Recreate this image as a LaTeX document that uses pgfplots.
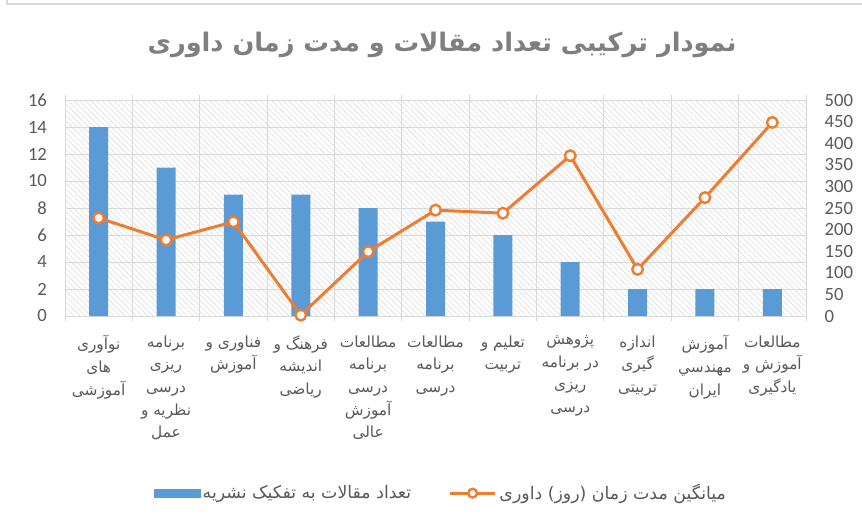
\documentclass[border=0pt]{standalone}
\usepackage{fontspec}
\usepackage{pgfplots}
\pgfplotsset{compat=1.18}
\usetikzlibrary{patterns.meta}
\TeXXeTstate=1
\newfontfamily\arabicfont[Script=Arabic]{DejaVu Sans}
\newfontfamily\numfont{Carlito}
\definecolor{barblue}{HTML}{5B9BD5}
\definecolor{lineorange}{HTML}{ED7D31}
\definecolor{gridgray}{HTML}{D9D9D9}
\definecolor{hatchgray}{HTML}{DDDDDD}
\definecolor{txtgray}{HTML}{595959}
\definecolor{titlegray}{HTML}{7F7F7F}
\begin{document}
\begin{tikzpicture}[x=0.75pt,y=0.75pt]
\path[use as bounding box] (0,0) rectangle (862,519);
\draw[gridgray, line width=1.5pt] (7,519) -- (7,515) -- (862,515);
\node[text=titlegray, font=\arabicfont\bfseries\fontsize{19.2}{22}\selectfont] at (442,474) {\beginR نمودار ترکیبی تعداد مقالات و مدت زمان داوری\endR};
\begin{axis}[
  at={(48.75pt,152.25pt)}, anchor=south west,
  scale only axis, width=555.75pt, height=162pt,
  xmin=-0.5, xmax=10.5, ymin=0, ymax=16,
  axis background/.style={pattern={Lines[angle=-45,distance=3pt,line width=0.45pt]}, pattern color=hatchgray},
  axis line style={gridgray, line width=0.75pt},
  xtick={-0.5,0.5,...,10.5}, xticklabels={},
  xmajorgrids, ymajorgrids,
  grid style={gridgray, line width=0.75pt},
  tick align=outside, x tick style={gridgray, line width=0.75pt}, major tick length=4pt,
  ytick={0,2,...,16}, y tick style={draw=none},
  yticklabel style={font=\numfont\fontsize{14}{14}\selectfont, text=txtgray, xshift=-6pt},
  /pgf/number format/assume math mode=true,
  extra x ticks={0,1,...,10},
  extra x tick style={grid=none, major tick length=0pt, tick label style={align=center, text=txtgray, font=\arabicfont\fontsize{11.5}{17}\selectfont, yshift=-11pt, anchor=north}},
  extra x tick labels={
    {\beginR نوآوری\endR\\\beginR های\endR\\\beginR آموزشی\endR},
    {\beginR برنامه\endR\\\beginR ریزی\endR\\\beginR درسی\endR\\\beginR نظریه و\endR\\\beginR عمل\endR},
    {\beginR فناوری و\endR\\\beginR آموزش\endR},
    {\beginR فرهنگ و\endR\\\beginR اندیشه\endR\\\beginR ریاضی\endR},
    {\beginR مطالعات\endR\\\beginR برنامه\endR\\\beginR درسی\endR\\\beginR آموزش\endR\\\beginR عالی\endR},
    {\beginR مطالعات\endR\\\beginR برنامه\endR\\\beginR درسی\endR},
    {\beginR تعلیم و\endR\\\beginR تربیت\endR},
    {\beginR پژوهش\endR\\\beginR در برنامه\endR\\\beginR ریزی\endR\\\beginR درسی\endR},
    {\beginR اندازه\endR\\\beginR گیری\endR\\\beginR تربیتی\endR},
    {\beginR آموزش\endR\\\beginR مهندسي\endR\\\beginR ایران\endR},
    {\beginR مطالعات\endR\\\beginR آموزش و\endR\\\beginR یادگیری\endR}
  },
]
\addplot[ybar, bar width=14.25pt, fill=barblue, draw=none] coordinates {
  (0,14) (1,11) (2,9) (3,9) (4,8) (5,7) (6,6) (7,4) (8,2) (9,2) (10,2)
};
\end{axis}
\begin{axis}[
  at={(48.75pt,152.25pt)}, anchor=south west,
  scale only axis, width=555.75pt, height=162pt,
  xmin=-0.5, xmax=10.5, ymin=0, ymax=500,
  axis x line=none, axis y line*=right,
  y axis line style={draw=none},
  ytick={0,50,...,500}, y tick style={draw=none},
  yticklabel style={font=\numfont\fontsize{14}{14}\selectfont, text=txtgray, xshift=10.5pt},
  /pgf/number format/assume math mode=true,
  clip=false,
  legend columns=2,
  legend style={draw=none, fill=none, at={(0.508,-0.82)}, anchor=center,
    font=\arabicfont\fontsize{13}{14}\selectfont, text=txtgray,
    /tikz/every even column/.append style={column sep=26pt}},
]
\addlegendimage{legend image code/.code={\fill[barblue] (0pt,-3pt) rectangle (34pt,3pt);}}
\addlegendentry{\beginR تعداد مقالات به تفکیک نشریه\endR}
\addlegendimage{legend image code/.code={\draw[lineorange, line width=2.25pt] (0pt,0pt) -- (34pt,0pt); \draw[lineorange, line width=1.8pt, fill=white] (17pt,0pt) circle (3.3pt);}}
\addlegendentry{\beginR میانگین مدت زمان \beginL(\endL روز\beginL)\endL{} داوری\endR}
\addplot[lineorange, line width=2.25pt, mark=*, mark size=4pt, mark options={fill=white, draw=lineorange, line width=1.8pt}, forget plot] coordinates {
  (0,227) (1,176) (2,218) (3,2) (4,149) (5,245) (6,238) (7,371) (8,108) (9,274) (10,448)
};
\end{axis}
\end{tikzpicture}
\end{document}
